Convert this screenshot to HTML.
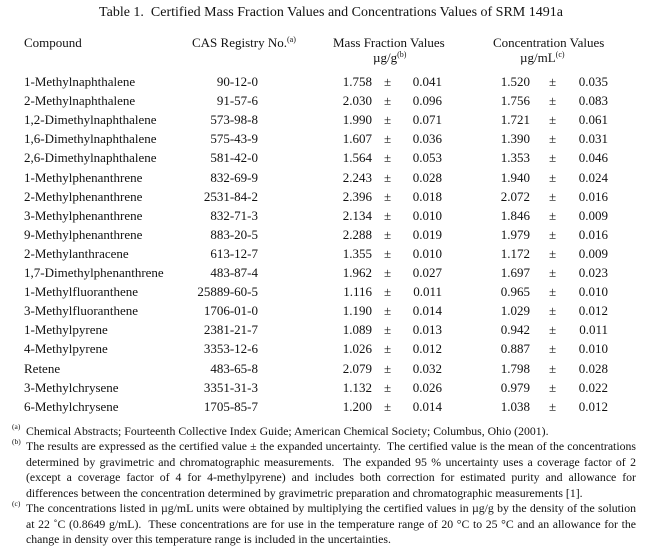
<!DOCTYPE html>
<html><head><meta charset="utf-8"><style>
body{margin:0;width:656px;height:550px;background:#fff;font-family:"Liberation Serif",serif;color:#111;position:relative;overflow:hidden}
.a{position:absolute;white-space:nowrap;font-size:13px;line-height:16px}
.r{text-align:right}
sup{font-size:8px;vertical-align:5px;line-height:0}
.fn{position:absolute;left:26px;width:610px;font-size:11.8px;line-height:15.55px;text-align:justify}
.fs{position:absolute;left:12px;font-size:7.5px}
</style></head><body>
<div class="a" style="left:0;width:662px;text-align:center;top:5px;font-size:14px">Table 1.&nbsp; Certified Mass Fraction Values and Concentrations Values of SRM 1491a</div>
<div class="a" style="left:24px;top:35px">Compound</div>
<div class="a" style="left:192px;top:35px">CAS Registry No.<sup>(a)</sup></div>
<div class="a" style="left:333px;top:35px">Mass Fraction Values</div>
<div class="a" style="left:373px;top:50px">µg/g<sup>(b)</sup></div>
<div class="a" style="left:493px;top:35px">Concentration Values</div>
<div class="a" style="left:520px;top:50px">µg/mL<sup>(c)</sup></div>
<div id="rows"></div>
<script>
var d=[["1-Methylnaphthalene","90-12-0","1.758","0.041","1.520","0.035"],
["2-Methylnaphthalene","91-57-6","2.030","0.096","1.756","0.083"],
["1,2-Dimethylnaphthalene","573-98-8","1.990","0.071","1.721","0.061"],
["1,6-Dimethylnaphthalene","575-43-9","1.607","0.036","1.390","0.031"],
["2,6-Dimethylnaphthalene","581-42-0","1.564","0.053","1.353","0.046"],
["1-Methylphenanthrene","832-69-9","2.243","0.028","1.940","0.024"],
["2-Methylphenanthrene","2531-84-2","2.396","0.018","2.072","0.016"],
["3-Methylphenanthrene","832-71-3","2.134","0.010","1.846","0.009"],
["9-Methylphenanthrene","883-20-5","2.288","0.019","1.979","0.016"],
["2-Methylanthracene","613-12-7","1.355","0.010","1.172","0.009"],
["1,7-Dimethylphenanthrene","483-87-4","1.962","0.027","1.697","0.023"],
["1-Methylfluoranthene","25889-60-5","1.116","0.011","0.965","0.010"],
["3-Methylfluoranthene","1706-01-0","1.190","0.014","1.029","0.012"],
["1-Methylpyrene","2381-21-7","1.089","0.013","0.942","0.011"],
["4-Methylpyrene","3353-12-6","1.026","0.012","0.887","0.010"],
["Retene","483-65-8","2.079","0.032","1.798","0.028"],
["3-Methylchrysene","3351-31-3","1.132","0.026","0.979","0.022"],
["6-Methylchrysene","1705-85-7","1.200","0.014","1.038","0.012"]];
var h="";
d.forEach(function(r,i){var t=74+i*19.1;
h+='<div class="a" style="left:24px;top:'+t+'px">'+r[0]+'</div>';
h+='<div class="a r" style="right:398px;top:'+t+'px">'+r[1]+'</div>';
h+='<div class="a r" style="right:284px;top:'+t+'px">'+r[2]+'</div>';
h+='<div class="a" style="left:384px;top:'+t+'px">±</div>';
h+='<div class="a r" style="right:214px;top:'+t+'px">'+r[3]+'</div>';
h+='<div class="a r" style="right:126px;top:'+t+'px">'+r[4]+'</div>';
h+='<div class="a" style="left:549px;top:'+t+'px">±</div>';
h+='<div class="a r" style="right:48px;top:'+t+'px">'+r[5]+'</div>';});
document.getElementById("rows").innerHTML=h;
</script>
<div class="fs" style="top:422px">(a)</div>
<div class="fn" style="top:424px">Chemical Abstracts; Fourteenth Collective Index Guide; American Chemical Society; Columbus, Ohio (2001).</div>
<div class="fs" style="top:437px">(b)</div>
<div class="fn" style="top:439px">The results are expressed as the certified value ± the expanded uncertainty.&nbsp; The certified value is the mean of the concentrations determined by gravimetric and chromatographic measurements.&nbsp; The expanded 95 % uncertainty uses a coverage factor of 2 (except a coverage factor of 4 for 4-methylpyrene) and includes both correction for estimated purity and allowance for differences between the concentration determined by gravimetric preparation and chromatographic measurements [1].</div>
<div class="fs" style="top:499px">(c)</div>
<div class="fn" style="top:501px">The concentrations listed in µg/mL units were obtained by multiplying the certified values in µg/g by the density of the solution at 22 ˚C (0.8649 g/mL).&nbsp; These concentrations are for use in the temperature range of 20 °C to 25 °C and an allowance for the change in density over this temperature range is included in the uncertainties.</div>
</body></html>
